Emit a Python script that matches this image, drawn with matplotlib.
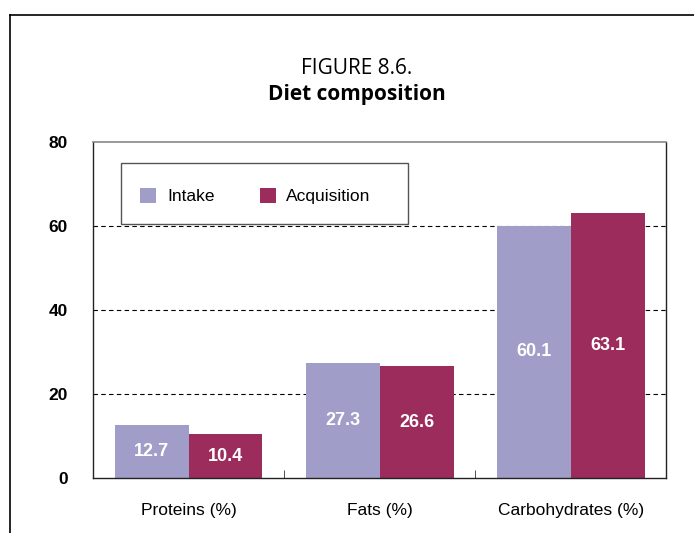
import matplotlib.pyplot as plt
from matplotlib.lines import Line2D
from matplotlib.patches import Rectangle
import numpy as np

plt.rcParams['font.family'] = ['Liberation Sans', 'DejaVu Sans']

# diet shares by nutrient
categories = ["Proteins (%)", "Fats (%)", "Carbohydrates (%)"]
intake = [12.7, 27.3, 60.1]
acquisition = [10.4, 26.6, 63.1]

c_intake = "#a09dc8"
c_acq = "#9b2c5c"

fig = plt.figure(figsize=(6.94, 5.33), dpi=100)
ax = fig.add_axes([0.134, 0.1032, 0.826, 0.6304])

x = np.arange(len(categories))
w = 0.387
b1 = ax.bar(x - w / 2, intake, w, color=c_intake, label="Intake", zorder=2)
b2 = ax.bar(x + w / 2, acquisition, w, color=c_acq, label="Acquisition", zorder=2)

# values written inside the bars
for bars, vals in [(b1, intake), (b2, acquisition)]:
    for r, v in zip(bars, vals):
        ax.text(r.get_x() + r.get_width() / 2, v / 2, f"{v:.1f}",
                ha="center", va="center", color="white",
                fontsize=13, fontweight="bold", zorder=3)

ax.set_xlim(-0.5, 2.5)
ax.set_ylim(0, 80)
ax.set_yticks([0, 20, 40, 60, 80])
ax.tick_params(axis="y", length=0, labelsize=12.5, pad=18)
for lab in ax.get_yticklabels():
    lab.set_fontweight("bold")

ax.set_xticks(x)
ax.set_xticklabels(categories, fontsize=12.5)
ax.tick_params(axis="x", length=0, pad=18)
# small separator ticks between groups
ax.set_xticks([0.5, 1.5], minor=True)
ax.tick_params(axis="x", which="minor", direction="in", length=6, color="#333333")

for yv in [20, 40, 60]:
    ax.axhline(yv, color="black", linestyle=(0, (4, 3)), linewidth=0.8, zorder=1)

for s in ["left", "bottom", "right"]:
    ax.spines[s].set_color("#222222")
    ax.spines[s].set_linewidth(1.0)
ax.spines["top"].set_color("#888888")
ax.spines["top"].set_linewidth(1.2)

# legend box drawn separately, entries placed inside it
ax.add_patch(Rectangle((0.049, 0.756), 0.501, 0.1815, transform=ax.transAxes,
                       facecolor="white", edgecolor="#555555", linewidth=1.0,
                       zorder=4))
leg = ax.legend(loc="center left", bbox_to_anchor=(0.082, 0.839),
                ncol=2, fontsize=12.5, frameon=False,
                handlelength=0.92, handleheight=0.92,
                handletextpad=0.63, columnspacing=2.6,
                borderpad=0, borderaxespad=0)
leg.set_zorder(5)

fig.text(0.514, 0.872, "FIGURE 8.6.", ha="center", va="center",
         fontsize=15, family="Open Sans")
fig.text(0.514, 0.822, "Diet composition", ha="center", va="center",
         fontsize=15, fontweight="bold", family="Open Sans")

# outer page frame (top and left edges)
fig.add_artist(Line2D([10 / 694, 1], [1 - 15 / 533, 1 - 15 / 533],
                      transform=fig.transFigure, color="black", linewidth=1.2))
fig.add_artist(Line2D([10 / 694, 10 / 694], [0, 1 - 15 / 533],
                      transform=fig.transFigure, color="black", linewidth=1.2))

fig.savefig("out.png", dpi=100)
